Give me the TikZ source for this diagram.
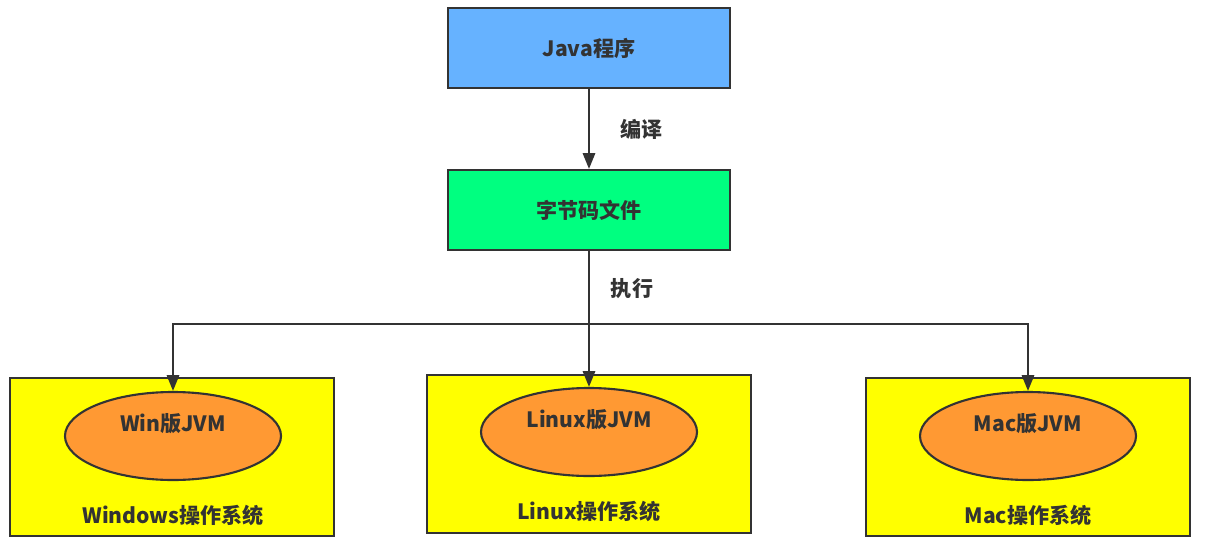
\documentclass[tikz,border=0pt]{standalone}
\usepackage{fontspec}
\setmainfont{Noto Sans CJK SC}
\usetikzlibrary{arrows.meta,positioning,shapes.geometric}
\definecolor{javablue}{HTML}{66B2FF}
\definecolor{codegreen}{HTML}{00FF80}
\definecolor{osyellow}{HTML}{FFFF00}
\definecolor{jvmorange}{HTML}{FF9933}
\definecolor{edge}{HTML}{333333}
\begin{document}
\begin{tikzpicture}[
    x=0.02cm, y=-0.02cm,
    font=\fontsize{12}{14}\selectfont\bfseries,
    text=edge,
    >={Triangle[length=9pt,width=7pt]},
    box/.style={rectangle, draw=edge, line width=1.2pt, inner sep=0pt},
    jvm/.style={ellipse, draw=edge, line width=1.2pt, fill=jvmorange,
                minimum width=216*0.02cm, minimum height=88*0.02cm, inner sep=0pt},
    os/.style={box, fill=osyellow, minimum width=324*0.02cm, minimum height=158*0.02cm},
    arrow/.style={->, draw=edge, line width=1.2pt}
]
\useasboundingbox (0,0) rectangle (1205,548);

%---- source and bytecode
\node (java) [box, fill=javablue, minimum width=282*0.02cm, minimum height=80*0.02cm] at (589,48) {Java程序};
\node (code) [box, fill=codegreen, minimum width=282*0.02cm, minimum height=80*0.02cm] at (589,210) {字节码文件};
\draw[arrow] (java) -- (code) node[midway, right=14pt] {编译};

%---- operating systems
\node (win)   [os] at (172,457) {};
\node (linux) [os] at (589,454) {};
\node (mac)   [os] at (1028,457) {};

\node (winjvm)   [jvm] at (173,436) {};
\node (linuxjvm) [jvm] at (589,432) {};
\node (macjvm)   [jvm] at (1028,436) {};

\node at (173,424) {Win版JVM};
\node at (589,420) {Linux版JVM};
\node at (1028,424) {Mac版JVM};

\node at (173,515) {Windows操作系统};
\node at (589,511) {Linux操作系统};
\node at (1028,515) {Mac操作系统};

%---- execution branches
\coordinate (split) at (589,324);
\draw[draw=edge, line width=1.2pt] (code) -- (split);
\node at (632,289) {执行};
\draw[arrow] (split) -| (winjvm.north);
\draw[arrow] (split) -- (linuxjvm.north);
\draw[arrow] (split) -| (macjvm.north);
\end{tikzpicture}
\end{document}
